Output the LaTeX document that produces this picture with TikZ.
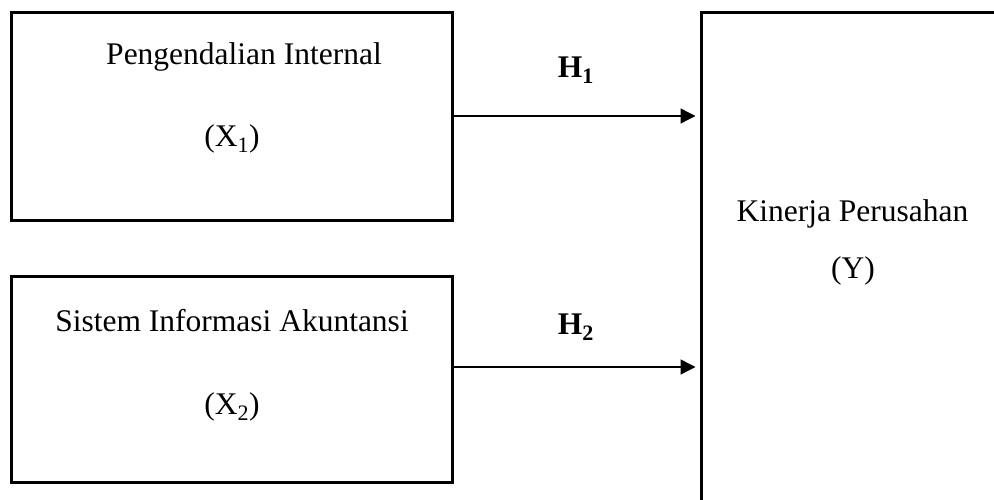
\documentclass[tikz,border=0pt]{standalone}
\usepackage{fontspec}
\setmainfont{Liberation Serif}
\usetikzlibrary{arrows.meta}
\tikzset{
  box/.style={draw=black, line width=3pt, fill=none, inner sep=0pt},
  lbl/.style={anchor=base, inner sep=0pt, font=\fontsize{31.5}{36}\selectfont},
  hyp/.style={anchor=base, inner sep=0pt, font=\fontsize{31.5}{36}\selectfont\bfseries},
  link/.style={draw=black, line width=1.4pt, -{Triangle[length=15pt,width=15pt]}}
}
\begin{document}
\begin{tikzpicture}[x=1pt,y=-1pt]
\clip (0,0) rectangle (994,500);
\fill[white] (0,0) rectangle (994,500);
% boxes
\node[box, minimum width=441pt, minimum height=207pt] (x1) at (231.5,116.5) {};
\node[box, minimum width=441pt, minimum height=206pt] (x2) at (231.5,379) {};
\node[box, minimum width=299pt, minimum height=497pt] (y) at (850.5,261.5) {};
% texts
\node[lbl] (t1) at (244,65) {Pengendalian Internal};
\node[lbl] (t1b) at (232,147) {(X\textsubscript{1})};
\node[lbl] (t2) at (232,331) {Sistem Informasi Akuntansi};
\node[lbl] (t2b) at (232,414) {(X\textsubscript{2})};
\node[lbl] (ty) at (852.5,222) {Kinerja Perusahan};
\node[lbl] (tyb) at (853,278) {(Y)};
\node[hyp] (h1) at (576,78) {H\textsubscript{1}};
\node[hyp] (h2) at (576,334) {H\textsubscript{2}};
% connectors
\coordinate (a1) at (x1.east |- 0,116);
\coordinate (b1) at (y.west |- 0,116);
\coordinate (a2) at (x2.east |- 0,367);
\coordinate (b2) at (y.west |- 0,367);
\draw[link] (a1) -- ([xshift=-4pt]b1);
\draw[link] (a2) -- ([xshift=-4pt]b2);
\end{tikzpicture}
\end{document}
